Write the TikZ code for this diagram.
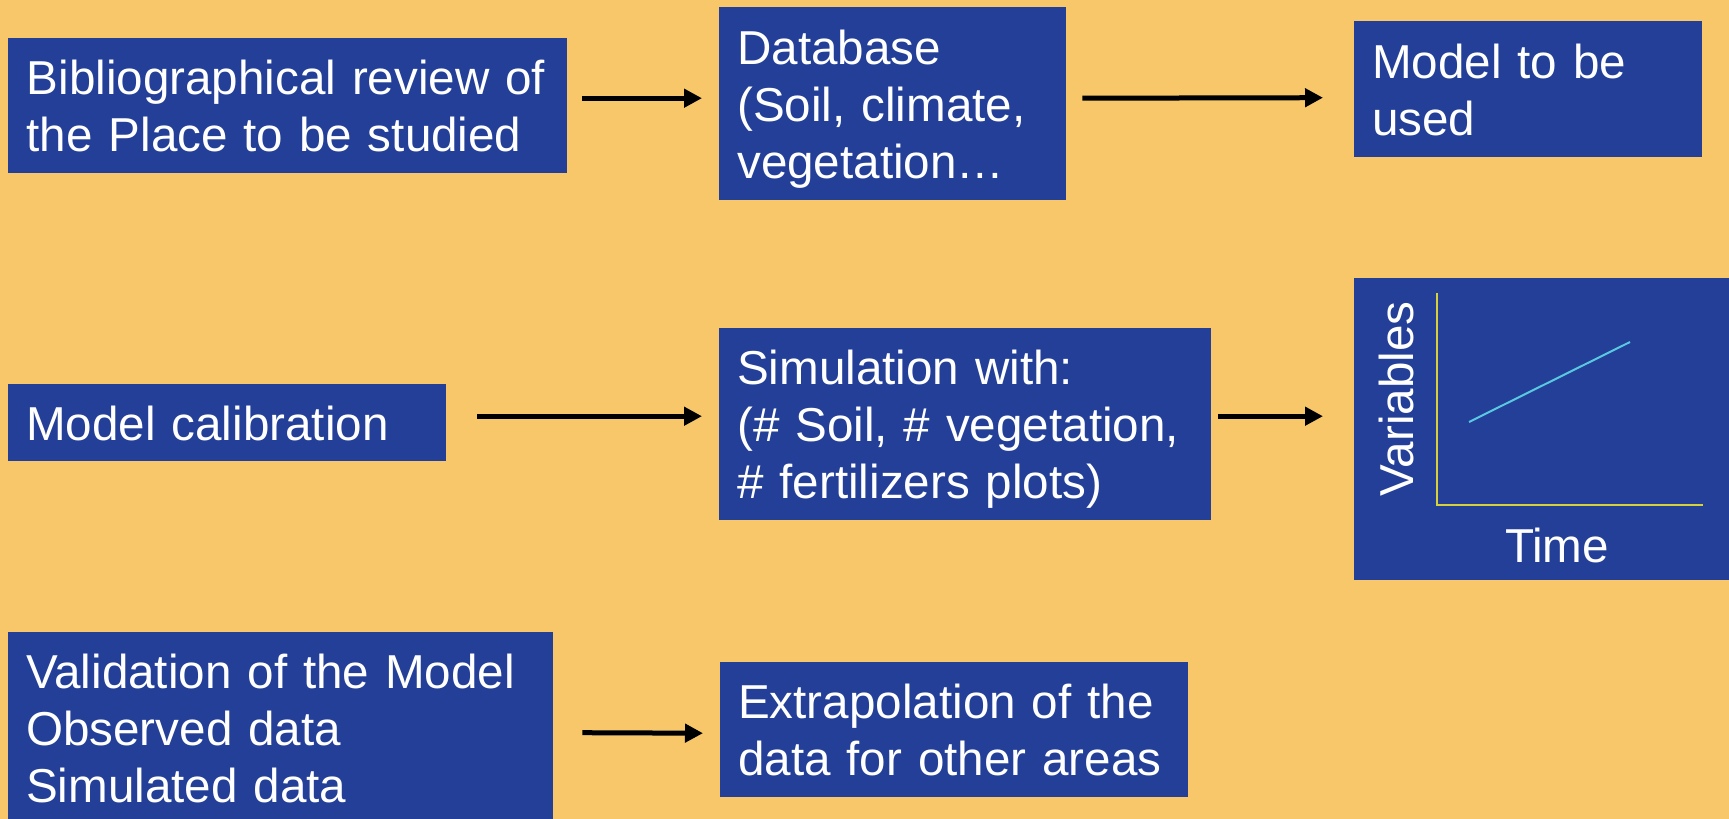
\documentclass[tikz,border=0pt]{standalone}
\usepackage{fontspec}
\setmainfont{Liberation Sans}
\usetikzlibrary{arrows.meta,calc}
\definecolor{bgorange}{RGB}{247,199,106}
\definecolor{boxblue}{RGB}{35,63,152}
\definecolor{axisyellow}{RGB}{215,210,60}
\definecolor{curvecyan}{RGB}{90,200,225}
\newcommand\bigfnt{\fontsize{47.6}{57}\selectfont}
\begin{document}
\begin{tikzpicture}[x=1pt,y=-1pt,
  box/.style={fill=boxblue, anchor=north west, inner sep=0pt},
  txt/.style={anchor=base west, inner sep=0pt, align=left, text=white,
    font=\bigfnt, text width=#1},
  arr/.style={line width=5pt, -{Triangle[length=18pt,width=18pt]}},
  lbl/.style={text=white, font=\bigfnt, inner sep=0pt}]
\fill[bgorange] (0,0) rectangle (1729,819);
\useasboundingbox (0,0) rectangle (1729,819);
\clip (0,0) rectangle (1729,819);

% boxes
\node[box, minimum width=559pt, minimum height=135pt] (b1) at (8,38) {};
\node[box, minimum width=347pt, minimum height=193pt] (b2) at (719,7) {};
\node[box, minimum width=348pt, minimum height=136pt] (b3) at (1354,21) {};
\node[box, minimum width=438pt, minimum height=77pt] (b4) at (8,384) {};
\node[box, minimum width=492pt, minimum height=192pt] (b5) at (719,328) {};
\node[box, minimum width=400pt, minimum height=302pt] (b6) at (1354,278) {};
\node[box, minimum width=545pt, minimum height=197pt] (b7) at (8,632) {};
\node[box, minimum width=468pt, minimum height=135pt] (b8) at (720,662) {};

% texts
\node[txt=530pt] (t1) at ([xshift=18.5pt,yshift=-56pt]b1.north west)
  {Bibliographical review of\\the Place to be studied};
\node[txt=320pt] (t2) at ([xshift=18pt,yshift=-57pt]b2.north west)
  {Database\\(Soil, climate,\\vegetation…};
\node[txt=320pt] (t3) at ([xshift=18pt,yshift=-57pt]b3.north west)
  {Model to be\\used};
\node[txt=420pt] (t4) at ([xshift=18pt,yshift=-56pt]b4.north west)
  {Model calibration};
\node[txt=470pt] (t5) at ([xshift=18pt,yshift=-56pt]b5.north west)
  {Simulation with:\\(\# Soil, \# vegetation,\\\# fertilizers plots)};
\node[txt=520pt] (t7) at ([xshift=18pt,yshift=-56pt]b7.north west)
  {Validation of the Model\\Observed data\\Simulated data};
\node[txt=450pt] (t8) at ([xshift=18pt,yshift=-56pt]b8.north west)
  {Extrapolation of the\\data for other areas};

% graph inside b6
\coordinate (yt) at (1437,293);
\coordinate (org) at (1437,505);
\coordinate (xr) at (1703,505);
\draw[axisyellow, line width=2pt] (yt) -- (org) -- (xr);
\coordinate (c1) at (1469,422);
\coordinate (c2) at (1630,342);
\draw[curvecyan, line width=2pt] (c1) -- (c2);
\node[lbl, rotate=90, anchor=base] (vl) at (1413,399) {Variables};
\node[lbl, anchor=base] (tl) at (1557,562) {Time};

% arrows
\draw[arr] ([xshift=15pt,yshift=7.5pt]b1.east) -- ([xshift=-17pt,yshift=5.5pt]b2.west);
\draw[arr] ([xshift=16pt,yshift=5.5pt]b2.east) -- ([xshift=-31pt,yshift=-8.5pt]b3.west);
\draw[arr] ([xshift=31pt,yshift=6.5pt]b4.east) -- ([xshift=-17pt,yshift=8pt]b5.west);
\draw[arr] ([xshift=7pt,yshift=8pt]b5.east) -- ([xshift=-31pt,yshift=13pt]b6.west);
\draw[arr] ([xshift=29pt,yshift=-2pt]b7.east) -- ([xshift=-17pt,yshift=-3.5pt]b8.west);
\end{tikzpicture}
\end{document}
